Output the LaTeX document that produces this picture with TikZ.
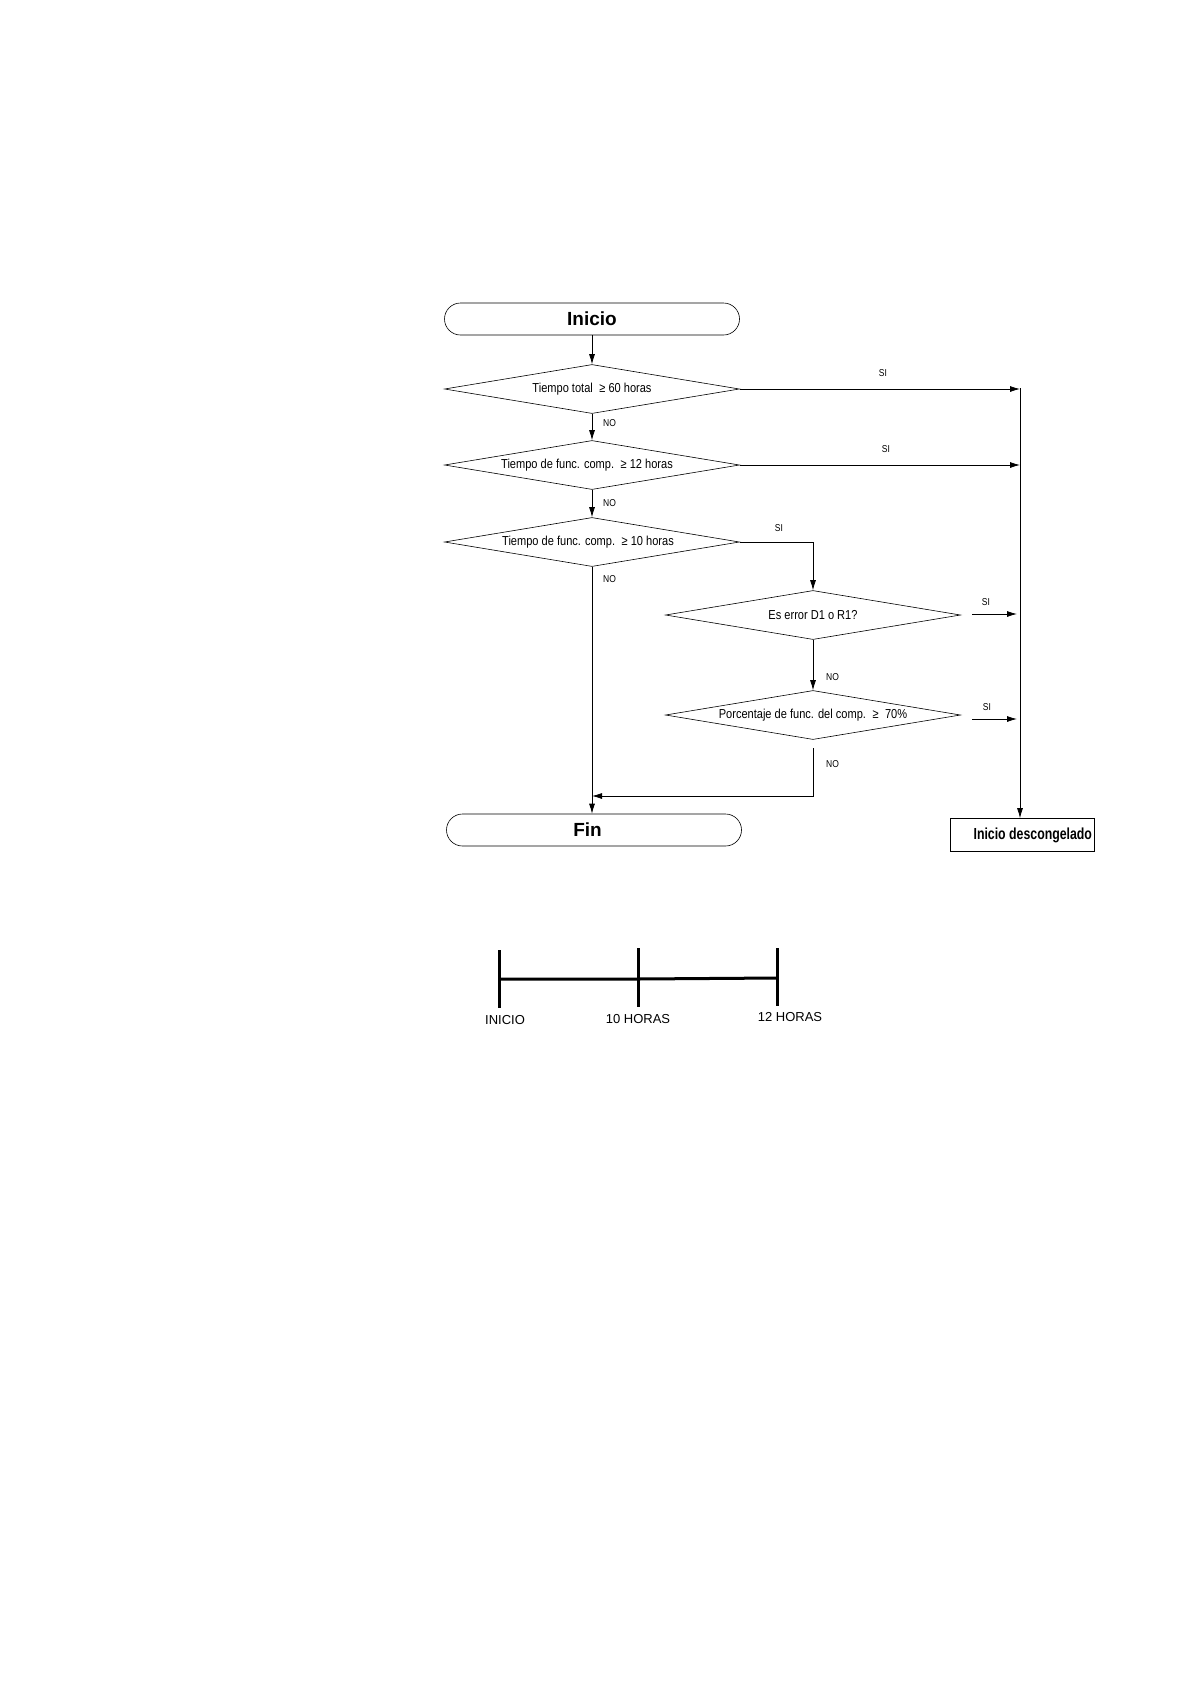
\documentclass[tikz,border=0pt]{standalone}
\usepackage{fontspec}
\setmainfont{Liberation Sans}
\newfontfamily\narrowf[FakeStretch=0.85]{Liberation Sans}
\newfontfamily\narrowbf[FakeStretch=0.77]{Liberation Sans Bold}
\newfontfamily\boldf{Liberation Sans Bold}
\usetikzlibrary{shapes.geometric,shapes.misc,arrows.meta}
\begin{document}
\begin{tikzpicture}[x=1pt,y=-1pt,
  term/.style={rounded rectangle, draw, line width=0.6pt, minimum width=295pt, minimum height=32pt, inner sep=0pt, font=\boldf\fontsize{19}{21}\selectfont},
  dec/.style={diamond, draw, line width=0.6pt, aspect=6, minimum width=295pt, minimum height=49pt, inner sep=1pt, font=\narrowf\fontsize{13}{15}\selectfont},
  endbox/.style={draw, line width=0.6pt, minimum width=144pt, minimum height=33pt, inner sep=0pt, font=\narrowbf\fontsize{16}{18}\selectfont},
  arr/.style={-{Latex[length=10pt,width=6pt]}, line width=0.8pt},
  lab/.style={font=\narrowf\fontsize{10}{12}\selectfont, inner sep=0pt},
  tl/.style={line width=3pt},
  tllab/.style={font=\fontsize{13}{15}\selectfont, inner sep=0pt}]
\path[use as bounding box, fill=white] (0,0) rectangle (1190,1682);

% nodes
\node[term] (ini) at (592,319) {Inicio};
\node[dec] (d1) at (592,389) {Tiempo total\enspace≥ 60 horas};
\node[dec] (d2) at (592,465) {Tiempo de func. comp.\enspace≥ 12 horas\hspace*{10pt}};
\node[dec] (d3) at (592,542) {Tiempo de func. comp.\enspace≥ 10 horas\hspace*{8pt}};
\node[dec] (d4) at (813,615) {Es error D1 o R1?};
\node[dec] (d5) at (813,715) {Porcentaje de func. del comp.\enspace≥\enspace70\%};
\node[term] (fin) at (594,830) {Fin\hspace*{13pt}};
\node[endbox] (des) at (1022,835) {\makebox[140pt][r]{Inicio descongelado}};

% helper coordinates
\coordinate (rail) at (1020,388);
\coordinate (s4a) at (972,614);
\coordinate (s4b) at (1017,614);
\coordinate (s5a) at (972,719);
\coordinate (s5b) at (1017,719);
\coordinate (n5) at (813,748);
\coordinate (j) at (592,796);

% connectors
\draw[arr] (ini.south) -- (d1.north);
\draw[arr] (d1.south) -- (d2.north);
\draw[arr] (d2.south) -- (d3.north);
\draw[arr] (d3.south) -- (d3.south |- fin.north);
\draw[arr] (d1.east) -- (d1.east -| rail);
\draw[arr] (d2.east) -- (d2.east -| rail);
\draw[arr] (rail) -- (rail |- des.north);
\draw[arr] (d3.east) -- (d3.east -| d4.north) -- (d4.north);
\draw[arr] (d4.south) -- (d5.north);
\draw[arr] (s4a) -- (s4b);
\draw[arr] (s5a) -- (s5b);
\draw[arr] (n5) |- (j);

% labels
\node[lab, anchor=west] (lno1) at (603,423) {NO};
\node[lab, anchor=west] (lno2) at (603,503) {NO};
\node[lab, anchor=west] (lno3) at (603,579) {NO};
\node[lab, anchor=west] (lno4) at (826,677) {NO};
\node[lab, anchor=west] (lno5) at (826,764) {NO};
\node[lab] (lsi1) at (883,373) {SI};
\node[lab] (lsi2) at (886,449) {SI};
\node[lab] (lsi3) at (779,528) {SI};
\node[lab] (lsi4) at (986,602) {SI};
\node[lab] (lsi5) at (987,707) {SI};

% timeline
\coordinate (t0) at (499,979);
\coordinate (t1) at (638,979);
\coordinate (t2) at (777,978);
\draw[tl] (t0) -- (t1) -- (t2);
\draw[tl] (499,950) -- (499,1008);
\draw[tl] (638,948) -- (638,1007);
\draw[tl] (777,948) -- (777,1006);
\node[tllab] (tlab0) at (505,1020) {INICIO};
\node[tllab] (tlab1) at (638,1019) {10 HORAS};
\node[tllab] (tlab2) at (790,1017) {12 HORAS};
\end{tikzpicture}
\end{document}
